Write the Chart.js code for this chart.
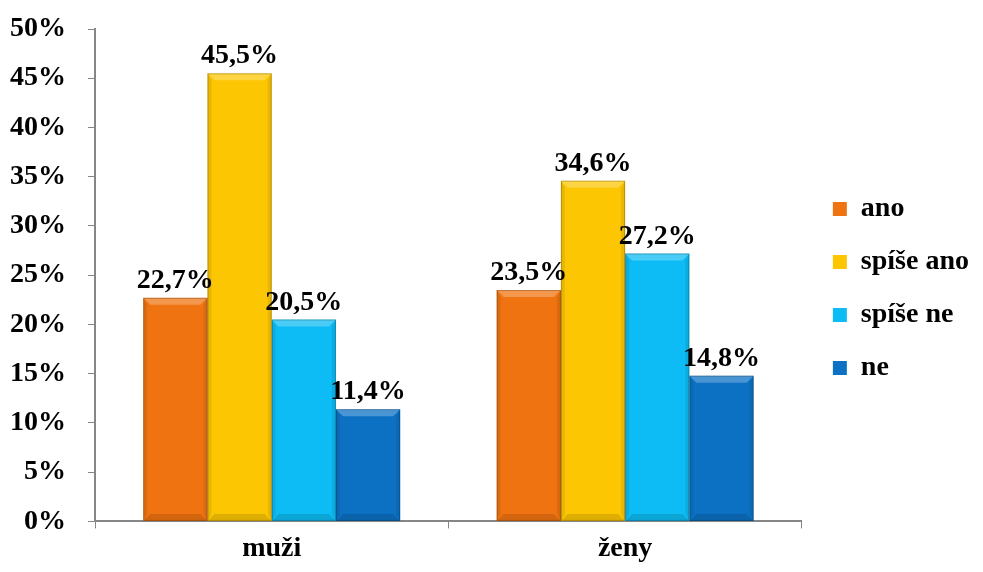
<!DOCTYPE html>
<html>
<head>
<meta charset="utf-8">
<script src="https://cdn.jsdelivr.net/npm/chart.js@4"></script>
<style>
	body { margin: 0; background: #fff; }
	#wrap { width: 983px; height: 572px; }
</style>
</head>
<body>
<div id="wrap"><canvas id="chart" width="983" height="572"></canvas></div>
<script>
var categories = ['muži', 'ženy'];
var seriesNames = ['ano', 'spíše ano', 'spíše ne', 'ne'];
var ano = [22.7, 23.5];
var spiseAno = [45.5, 34.6];
var spiseNe = [20.5, 27.2];
var ne = [11.4, 14.8];
var colors = ['#EF7411', '#FDC603', '#0DBCF4', '#0C71C3'];

var font = { family: '"Liberation Serif", "Times New Roman", serif', weight: 'bold', size: 28 };

function pct(v) {
	return v.toFixed(1).replace('.', ',') + '%';
}

// soft bevel on the bars, like the office chart style
var bevel = {
	id: 'bevel',
	afterDatasetsDraw: function(chart) {
		var ctx = chart.ctx;
		chart.data.datasets.forEach(function(ds, i) {
			chart.getDatasetMeta(i).data.forEach(function(bar) {
				var l = bar.x - bar.width / 2, r = bar.x + bar.width / 2;
				var t = bar.y, b = bar.base, e = 7;
				ctx.save();
				ctx.fillStyle = 'rgba(255,255,255,0.25)';
				ctx.beginPath();
				ctx.moveTo(l, t); ctx.lineTo(r, t); ctx.lineTo(r - e, t + e); ctx.lineTo(l + e, t + e);
				ctx.closePath(); ctx.fill();
				ctx.fillStyle = 'rgba(0,0,0,0.08)';
				ctx.beginPath();
				ctx.moveTo(l, t); ctx.lineTo(l + 4, t + e); ctx.lineTo(l + 4, b - e); ctx.lineTo(l, b);
				ctx.closePath(); ctx.fill();
				ctx.beginPath();
				ctx.moveTo(r, t); ctx.lineTo(r - 4, t + e); ctx.lineTo(r - 4, b - e); ctx.lineTo(r, b);
				ctx.closePath(); ctx.fill();
				ctx.fillStyle = 'rgba(0,0,0,0.12)';
				ctx.beginPath();
				ctx.moveTo(l, b); ctx.lineTo(l + e, b - e); ctx.lineTo(r - e, b - e); ctx.lineTo(r, b);
				ctx.closePath(); ctx.fill();
				ctx.strokeStyle = 'rgba(0,0,0,0.22)';
				ctx.lineWidth = 1;
				ctx.strokeRect(l + 0.5, t + 0.5, bar.width - 1, b - t - 1);
				ctx.restore();
			});
		});
	}
};

var valueLabels = {
	id: 'valueLabels',
	afterDatasetsDraw: function(chart) {
		var ctx = chart.ctx;
		ctx.save();
		ctx.font = 'bold 28px "Liberation Serif", serif';
		ctx.fillStyle = '#000';
		ctx.textAlign = 'center';
		ctx.textBaseline = 'alphabetic';
		chart.data.datasets.forEach(function(ds, i) {
			chart.getDatasetMeta(i).data.forEach(function(bar, j) {
				ctx.fillText(pct(ds.data[j]), bar.x, bar.y - 10);
			});
		});
		ctx.restore();
	}
};

// nudge the legend a bit right
var legendNudge = {
	id: 'legendNudge',
	afterLayout: function(chart) {
		var lg = chart.legend;
		lg.left += 6; lg.right += 6;
		lg.top -= 3; lg.bottom -= 3;
	}
};

var allSeries = [ano, spiseAno, spiseNe, ne];
var datasets = allSeries.map(function(vals, i) {
	return {
		label: seriesNames[i],
		data: vals,
		backgroundColor: colors[i],
		borderWidth: 0,
		barPercentage: 1,
		categoryPercentage: 0.727
	};
});

new Chart(document.getElementById('chart'), {
	type: 'bar',
	data: { labels: categories, datasets: datasets },
	options: {
		responsive: false,
		animation: false,
		layout: { padding: { top: 13, right: 10, left: 10, bottom: 2 } },
		plugins: {
			tooltip: { enabled: false },
			legend: {
				position: 'right',
				labels: {
					font: font,
					color: '#000',
					boxWidth: 14,
					boxHeight: 14,
					padding: 25
				}
			}
		},
		scales: {
			x: {
				grid: { offset: true, drawOnChartArea: false, tickLength: 7, color: '#868686' },
				border: { color: '#868686', width: 2 },
				ticks: { font: font, color: '#000', padding: 4 }
			},
			y: {
				min: 0,
				max: 50,
				afterFit: function(scale) {
					scale.width = 85;
					scale.paddingTop = 29;
					scale.paddingBottom = 0;
				},
				ticks: {
					stepSize: 5,
					font: font,
					color: '#000',
					padding: 22,
					callback: function(v) { return v + '%'; }
				},
				grid: { drawOnChartArea: false, tickLength: 7, color: '#868686' },
				border: { color: '#868686', width: 2 }
			}
		}
	},
	plugins: [bevel, valueLabels, legendNudge]
});
</script>
</body>
</html>
